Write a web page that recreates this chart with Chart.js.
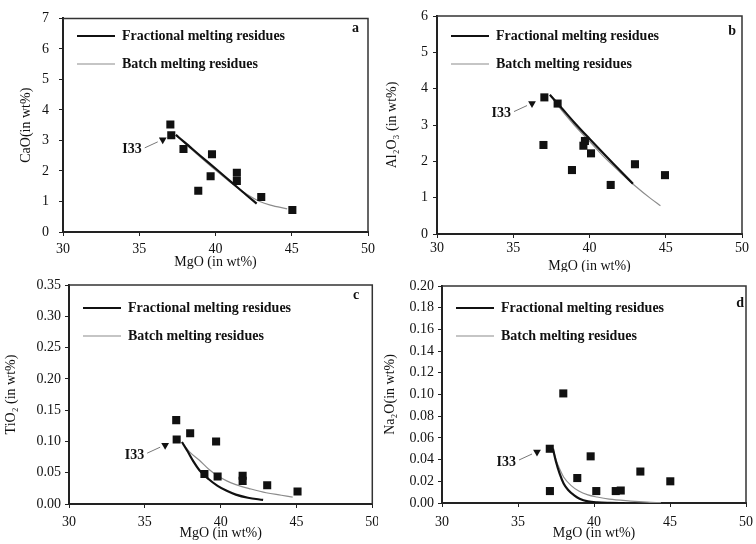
<!DOCTYPE html>
<html>
<head>
<meta charset="utf-8">
<script src="https://cdn.jsdelivr.net/npm/chart.js@4.4.0/dist/chart.umd.min.js"></script>
<style>
  body { margin: 0; background: #fff; }
  #wrap { position: relative; width: 756px; height: 544px; }
  #wrap canvas { position: absolute; }
</style>
</head>
<body>
<div id="wrap">
  <canvas id="chartA" width="378" height="272" style="left:0;top:0"></canvas>
  <canvas id="chartB" width="378" height="272" style="left:378px;top:0"></canvas>
  <canvas id="chartC" width="378" height="272" style="left:0;top:272px"></canvas>
  <canvas id="chartD" width="378" height="272" style="left:378px;top:272px"></canvas>
</div>
<script>
// panel a - CaO
const aMgO = [37.04, 37.1, 37.9, 38.87, 39.68, 39.77, 41.4, 41.4, 43.0, 45.04];
const aCaO = [3.52, 3.17, 2.72, 1.35, 1.83, 2.55, 1.94, 1.67, 1.15, 0.72];
const aI33 = [36.54, 3.02];
const aFracMgO = [37.4, 38.0, 39.0, 40.0, 41.0, 42.0, 42.7];
const aFracCaO = [3.18, 2.93, 2.50, 2.08, 1.65, 1.22, 0.93];
const aBatchMgO = [37.4, 38.0, 39.0, 40.0, 41.0, 42.0, 42.9, 43.6, 44.7];
const aBatchCaO = [3.17, 2.90, 2.46, 2.03, 1.62, 1.25, 1.00, 0.88, 0.76];

// panel b - Al2O3
const bMgO = [37.04, 37.91, 36.98, 38.85, 39.6, 39.7, 40.1, 41.39, 42.98, 44.95];
const bAl2O3 = [3.76, 3.59, 2.45, 1.76, 2.43, 2.56, 2.22, 1.35, 1.92, 1.62];
const bI33 = [36.23, 3.59];
const bFracMgO = [37.4, 38.0, 39.0, 40.0, 41.0, 42.0, 42.85];
const bFracAl2O3 = [3.83, 3.55, 3.07, 2.62, 2.18, 1.75, 1.38];
const bBatchMgO = [37.5, 38.0, 39.0, 40.0, 41.0, 42.0, 43.0, 44.0, 44.65];
const bBatchAl2O3 = [3.80, 3.50, 3.00, 2.55, 2.10, 1.70, 1.32, 0.98, 0.78];

// panel c - TiO2
const cMgO = [37.07, 37.1, 37.99, 38.93, 39.7, 39.8, 41.45, 41.45, 43.07, 45.07];
const cTiO2 = [0.134, 0.103, 0.113, 0.048, 0.100, 0.044, 0.045, 0.037, 0.030, 0.020];
const cI33 = [36.34, 0.094];
const cFracMgO = [37.45, 37.8, 38.2, 38.6, 39.2, 39.8, 40.4, 41.0, 41.8, 42.8];
const cFracTiO2 = [0.099, 0.085, 0.068, 0.054, 0.040, 0.029, 0.021, 0.015, 0.010, 0.0065];
const cBatchMgO = [37.45, 38.0, 38.6, 39.2, 39.8, 40.4, 41.0, 42.0, 43.0, 44.0, 44.75];
const cBatchTiO2 = [0.099, 0.082, 0.070, 0.056, 0.045, 0.037, 0.031, 0.024, 0.018, 0.014, 0.011];

// panel d - Na2O
const dMgO = [37.09, 37.1, 37.98, 38.9, 39.78, 40.15, 41.43, 41.76, 43.05, 45.02];
const dNa2O = [0.050, 0.011, 0.101, 0.023, 0.043, 0.011, 0.011, 0.0115, 0.029, 0.020];
const dI33 = [36.25, 0.047];
const dFracMgO = [37.3, 37.5, 37.74, 38.0, 38.3, 38.7, 39.05, 39.6, 40.2, 41.0, 42.0];
const dFracNa2O = [0.050, 0.038, 0.027, 0.018, 0.012, 0.007, 0.004, 0.0015, 0.0005, 0.0001, 0];
const dBatchMgO = [37.3, 37.5, 37.75, 38.0, 38.5, 39.0, 39.6, 40.2, 41.0, 42.4, 43.5, 44.4];
const dBatchNa2O = [0.050, 0.040, 0.031, 0.024, 0.016, 0.011, 0.0075, 0.0055, 0.0035, 0.0018, 0.0008, 0.0003];

const serif = '"Liberation Serif", "Times New Roman", serif';

function pairs(xs, ys) {
  return xs.map((x, i) => ({ x: x, y: ys[i] }));
}

// frame top/right, panel letter and the I33 arrow label
const panelDecor = {
  id: 'panelDecor',
  afterDatasetsDraw(chart, args, opts) {
    const ctx = chart.ctx;
    const ca = chart.chartArea;
    ctx.save();
    ctx.strokeStyle = '#333';
    ctx.lineWidth = 1.5;
    ctx.beginPath();
    ctx.moveTo(ca.left, ca.top);
    ctx.lineTo(ca.right, ca.top);
    ctx.lineTo(ca.right, ca.bottom);
    ctx.stroke();

    ctx.fillStyle = '#111';
    ctx.font = 'bold 14px ' + serif;
    ctx.textAlign = 'right';
    ctx.textBaseline = 'middle';
    ctx.fillText(opts.letter, ca.right - opts.letterDx, ca.top + opts.letterDy);

    const tri = chart.getDatasetMeta(1).data[0];
    if (tri) {
      ctx.fillText('I33', tri.x - 21, tri.y + 10);
      ctx.strokeStyle = '#777';
      ctx.lineWidth = 1;
      ctx.beginPath();
      ctx.moveTo(tri.x - 18, tri.y + 8);
      ctx.lineTo(tri.x - 5, tri.y + 2);
      ctx.stroke();
    }
    ctx.restore();
  }
};

function makePanel(id, p) {
  const ctx = document.getElementById(id).getContext('2d');
  return new Chart(ctx, {
    type: 'scatter',
    data: {
      datasets: [
        {
          label: 'samples',
          data: pairs(p.mgo, p.val),
          pointStyle: 'rect',
          pointRadius: 5.7,
          backgroundColor: '#111',
          borderColor: '#111',
          borderWidth: 0
        },
        {
          label: 'I33',
          data: [{ x: p.i33[0], y: p.i33[1] }],
          pointStyle: 'triangle',
          rotation: 180,
          pointRadius: 4.5,
          backgroundColor: '#111',
          borderColor: '#111',
          borderWidth: 0
        },
        {
          label: 'Fractional melting residues',
          data: pairs(p.fracX, p.fracY),
          showLine: true,
          pointRadius: 0,
          borderColor: '#111',
          backgroundColor: '#111',
          borderWidth: 2.2,
          cubicInterpolationMode: 'monotone'
        },
        {
          label: 'Batch melting residues',
          data: pairs(p.batchX, p.batchY),
          showLine: true,
          pointRadius: 0,
          borderColor: '#8c8c8c',
          backgroundColor: '#8c8c8c',
          borderWidth: 1.2,
          cubicInterpolationMode: 'monotone'
        }
      ]
    },
    options: {
      responsive: false,
      animation: false,
      events: [],
      layout: { padding: { left: 0, right: p.padRight, top: p.padTop, bottom: 0 } },
      scales: {
        x: {
          type: 'linear',
          min: 30,
          max: 50,
          ticks: { stepSize: 5, maxRotation: 0, minRotation: 0, color: '#111', font: { family: serif, size: 14 }, padding: p.xTickPad },
          grid: { display: true, drawOnChartArea: false, drawTicks: true, tickLength: 4, color: '#222' },
          border: { color: '#222', width: 2 },
          title: { display: true, text: 'MgO (in wt%)', color: '#111', font: { family: serif, size: 14 }, padding: { top: 0, bottom: p.xTitlePad } },
          afterFit(scale) {
            scale.height = p.xH;
            scale.paddingLeft = 0;
            scale.paddingRight = 0;
          }
        },
        y: {
          type: 'linear',
          min: 0,
          max: p.yMax,
          ticks: {
            stepSize: p.yStep,
            color: '#111',
            font: { family: serif, size: 14 },
            padding: p.yTickPad,
            callback: (v) => p.yDec ? v.toFixed(p.yDec) : v
          },
          grid: { display: true, drawOnChartArea: false, drawTicks: true, tickLength: 4, color: '#222' },
          border: { color: '#222', width: 2 },
          title: { display: true, text: p.yTitle, color: '#111', font: { family: serif, size: 14 }, padding: { top: p.yTitlePad, bottom: 0 } },
          afterFit(scale) { scale.width = p.yW; }
        }
      },
      plugins: {
        legend: {
          position: 'chartArea',
          align: 'start',
          title: { display: true, text: '', font: { size: 10 }, padding: { top: 0, bottom: 3 } },
          labels: {
            filter: (item) => item.text.indexOf('residues') > -1,
            usePointStyle: true,
            pointStyle: 'line',
            pointStyleWidth: 38,
            padding: 14,
            color: '#111',
            font: { family: serif, size: 14, weight: 'bold' }
          }
        },
        tooltip: { enabled: false },
        panelDecor: { letter: p.letter, letterDx: p.letterDx, letterDy: p.letterDy }
      }
    },
    plugins: [panelDecor]
  });
}

makePanel('chartA', {
  mgo: aMgO, val: aCaO, i33: aI33,
  fracX: aFracMgO, fracY: aFracCaO, batchX: aBatchMgO, batchY: aBatchCaO,
  yMax: 7, yStep: 1, yDec: 0, yTitle: 'CaO(in wt%)',
  yW: 63, xH: 40, padRight: 10, padTop: 14,
  yTickPad: 10, yTitlePad: 18, xTitlePad: 1, xTickPad: 5,
  letter: 'a', letterDx: 9, letterDy: 10
});
makePanel('chartB', {
  mgo: bMgO, val: bAl2O3, i33: bI33,
  fracX: bFracMgO, fracY: bFracAl2O3, batchX: bBatchMgO, batchY: bBatchAl2O3,
  yMax: 6, yStep: 1, yDec: 0, yTitle: 'Al\u2082O\u2083 (in wt%)',
  yW: 59, xH: 38, padRight: 14, padTop: 16,
  yTickPad: 5, yTitlePad: 6, xTitlePad: -3, xTickPad: 2,
  letter: 'b', letterDx: 6, letterDy: 15
});
makePanel('chartC', {
  mgo: cMgO, val: cTiO2, i33: cI33,
  fracX: cFracMgO, fracY: cFracTiO2, batchX: cBatchMgO, batchY: cBatchTiO2,
  yMax: 0.35, yStep: 0.05, yDec: 2, yTitle: 'TiO\u2082 (in wt%)',
  yW: 69, xH: 40, padRight: 5, padTop: 13,
  yTickPad: 4, yTitlePad: 3, xTitlePad: 2, xTickPad: 6,
  letter: 'c', letterDx: 13, letterDy: 10
});
makePanel('chartD', {
  mgo: dMgO, val: dNa2O, i33: dI33,
  fracX: dFracMgO, fracY: dFracNa2O, batchX: dBatchMgO, batchY: dBatchNa2O,
  yMax: 0.2, yStep: 0.02, yDec: 2, yTitle: 'Na\u2082O(in wt%)',
  yW: 64, xH: 41, padRight: 10, padTop: 14,
  yTickPad: 4, yTitlePad: 4, xTitlePad: 2, xTickPad: 7,
  letter: 'd', letterDx: 2, letterDy: 17
});
</script>
</body>
</html>
